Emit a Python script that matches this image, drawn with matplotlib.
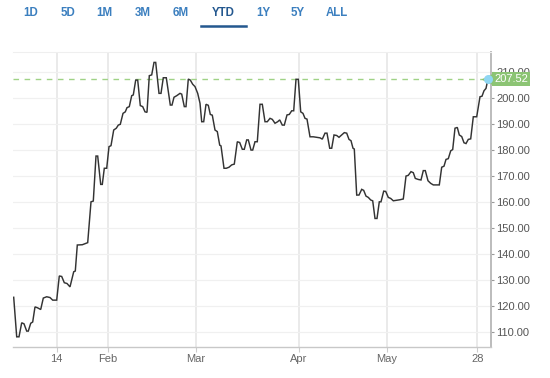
import matplotlib
matplotlib.use("Agg")
import matplotlib.pyplot as plt
from matplotlib.lines import Line2D

plt.rcParams['font.family'] = ['Liberation Sans', 'DejaVu Sans']

# ---- data (position along the session axis, price) ----
t = [13.7, 16.7, 19.0, 21.7, 24.0, 26.7, 28.3, 30.7, 32.7, 35.0, 37.3, 40.7,
     43.3, 46.7, 50.0, 52.7, 56.7, 59.3, 61.7, 64.3, 67.0, 70.0, 73.7, 75.3,
     77.3, 82.3, 87.7, 91.0, 93.3, 96.0, 97.7, 100.7, 102.3, 104.3, 106.7,
     109.0, 111.0, 113.7, 116.3, 118.3, 120.3, 123.0, 125.3, 127.0, 129.3,
     131.7, 133.3, 135.7, 137.7, 140.3, 142.7, 145.0, 147.0, 149.3, 151.7,
     154.0, 155.7, 159.0, 161.0, 163.3, 166.3, 170.3, 172.0, 174.0, 176.7,
     180.0, 181.7, 184.3, 186.0, 188.3, 190.3, 192.7, 195.0, 197.7, 200.0,
     201.7, 203.7, 206.0, 208.3, 210.3, 212.3, 215.0, 217.3, 219.7, 221.0,
     224.0, 226.3, 229.0, 231.7, 234.3, 237.3, 239.7, 242.3, 244.3, 246.7,
     248.3, 251.0, 252.7, 255.0, 257.3, 260.0, 262.3, 265.0, 267.3, 270.0,
     272.3, 275.0, 277.7, 279.7, 282.3, 284.3, 287.0, 289.3, 291.7, 293.7,
     296.0, 298.3, 300.7, 303.0, 305.0, 307.0, 310.0, 313.3, 316.7, 320.0,
     322.3, 325.0, 327.0, 329.7, 331.7, 334.0, 336.7, 339.0, 341.7, 344.3,
     346.7, 349.0, 351.0, 353.0, 354.3, 356.7, 359.0, 361.7, 363.7, 366.0,
     368.3, 370.7, 372.7, 375.0, 377.0, 379.3, 381.0, 383.7, 385.7, 388.3,
     390.7, 393.3, 396.7, 400.0, 403.3, 406.0, 408.3, 411.0, 413.3, 415.3,
     418.3, 421.0, 423.3, 425.3, 428.0, 430.7, 433.3, 436.7, 439.3, 441.7,
     444.0, 446.0, 448.3, 450.7, 452.7, 455.0, 457.3, 459.3, 461.7, 464.0,
     466.0, 468.3, 470.7, 473.3, 476.7, 480.0, 482.0, 484.0, 486.0, 488.0]

price = [123.5, 108.3, 108.3, 113.7, 113.3, 110.5, 110.5, 113.5, 114.0, 119.8,
         119.5, 118.8, 123.2, 123.7, 123.4, 122.4, 122.4, 131.7, 131.5, 129.1,
         128.8, 127.5, 133.3, 133.6, 143.6, 143.7, 144.5, 160.2, 160.5, 177.8,
         177.8, 166.9, 166.9, 173.1, 173.1, 181.4, 181.8, 187.8, 188.5, 189.7,
         190.0, 194.2, 194.8, 196.4, 196.8, 201.0, 201.3, 207.0, 207.0, 197.2,
         196.8, 194.8, 194.6, 208.7, 209.0, 213.8, 213.8, 201.9, 201.9, 207.9,
         207.9, 197.4, 197.4, 200.4, 201.0, 201.9, 201.6, 196.8, 196.8, 207.4,
         207.0, 205.4, 204.5, 201.9, 198.1, 191.0, 191.0, 197.7, 197.3, 193.8,
         193.5, 187.8, 187.2, 182.0, 181.7, 173.1, 173.1, 173.5, 174.4, 174.7,
         183.3, 183.0, 180.4, 180.4, 184.0, 184.0, 180.1, 180.1, 183.3, 183.3,
         197.7, 197.7, 191.0, 191.0, 192.3, 191.9, 190.4, 191.0, 191.7, 189.7,
         189.7, 193.6, 193.8, 195.2, 195.2, 207.3, 207.3, 194.8, 194.2, 192.3,
         192.0, 185.2, 185.2, 185.0, 184.8, 184.3, 186.6, 186.6, 180.8, 180.8,
         185.9, 185.7, 185.0, 185.9, 186.8, 186.6, 184.2, 183.7, 180.8, 180.5,
         162.8, 162.8, 165.0, 164.6, 162.4, 161.9, 160.9, 160.6, 153.8, 153.8,
         160.2, 160.2, 164.3, 164.2, 161.9, 161.5, 160.6, 160.8, 161.0, 161.3,
         170.1, 170.4, 171.8, 171.4, 169.2, 168.8, 168.6, 172.2, 172.2, 168.3,
         167.3, 166.7, 166.7, 166.7, 173.5, 173.9, 176.5, 176.8, 179.8, 180.3,
         188.5, 188.8, 185.9, 185.3, 182.9, 182.6, 184.2, 184.4, 192.9, 192.9,
         200.6, 200.8, 202.9, 203.8, 207.52]

last_price = 207.52
x_tick_pos = [56.7, 107.7, 195.7, 299.0, 386.7, 477.3]
x_tick_labels = ['14', 'Feb', 'Mar', 'Apr', 'May', '28']
y_ticks = [110, 120, 130, 140, 150, 160, 170, 180, 190, 200, 210]
ranges = ['1D', '5D', '1M', '3M', '6M', 'YTD', '1Y', '5Y', 'ALL']
selected_range = 'YTD'

# ---- figure ----
W, H = 550, 378
fig = plt.figure(figsize=(W / 100, H / 100), dpi=100)
ax = fig.add_axes([13 / W, 31.3 / H, 477.7 / W, 294.7 / H])

ax.plot(t, price, color='#333333', lw=1.05, solid_joinstyle='miter', zorder=3)
ax.axhline(last_price, color='#9fd286', lw=1.0, dashes=(4, 4), zorder=2)

ax.set_xlim(13, 490.7)
ax.set_ylim(104.5, 217.8)

ax.set_xticks(x_tick_pos)
ax.set_xticklabels(x_tick_labels)
ax.set_yticks(y_ticks)
ax.set_yticklabels([f'{v:.2f}' for v in y_ticks])

ax.yaxis.tick_right()
ax.tick_params(axis='y', length=2.5, width=0.8, color='#999999', pad=1.5,
               labelsize=8, labelcolor='#555555')
ax.tick_params(axis='x', length=3.6, width=0.8, color='#cccccc', pad=2,
               labelsize=8, labelcolor='#666666')

ax.grid(axis='y', color='#f0f0f0', lw=0.9)
ax.grid(axis='x', color='#e4e4e4', lw=1.1)
ax.set_axisbelow(True)

ax.spines['left'].set_visible(False)
ax.spines['top'].set_color('#efefef')
ax.spines['top'].set_linewidth(0.8)
ax.spines['bottom'].set_color('#c8c8c8')
ax.spines['bottom'].set_linewidth(1.0)
ax.spines['right'].set_color('#bcbcbc')
ax.spines['right'].set_linewidth(1.4)

# last-price flag (drawn over the partly hidden 210.00 label, as in the reference)
ax.plot([t[-1] - 1], [last_price], marker='<', ms=9, color='#8cc474',
        mec='none', clip_on=False, zorder=9)
ax.annotate(f'{last_price:.2f}', xy=(t[-1], last_price), xytext=(4.3, 0),
            textcoords='offset points', ha='left', va='center',
            fontsize=8, color='white', annotation_clip=False, zorder=10,
            bbox=dict(boxstyle='square,pad=0.18', fc='#8cc474', ec='none'))
ax.plot([t[-1]], [last_price], marker='o', ms=6.5, color='#8fd6f2',
        mec='none', clip_on=False, zorder=11)

# range selector
btn_x = [31, 67.7, 104.3, 142.3, 181, 223.3, 263.3, 297.7, 337.3]
for lab, bx in zip(ranges, btn_x):
    sel = lab == selected_range
    fig.text(bx / W, 1 - 12.5 / H, lab, ha='center', va='center',
             fontsize=8.3, fontweight='bold',
             color='#24588f' if sel else '#3b7fbf')
fig.add_artist(Line2D([201 / W, 246 / W], [1 - 25.7 / H] * 2,
                      color='#24588f', lw=1.8))

fig.savefig('out.png', dpi=100)
